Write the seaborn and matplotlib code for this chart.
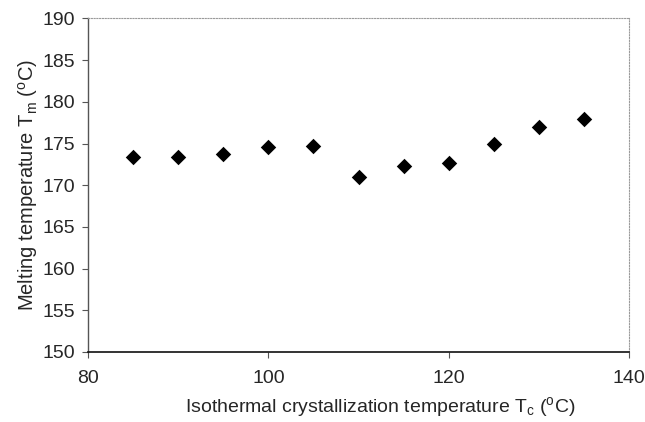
import matplotlib
matplotlib.use("Agg")
import matplotlib.pyplot as plt
import seaborn as sns
import pandas as pd

tc = [85, 90, 95, 100, 105, 110, 115, 120, 125, 130, 135]
tm = [173.4, 173.4, 173.7, 174.6, 174.7, 171.0, 172.3, 172.7, 175.0, 177.0, 178.0]
xticks = [80, 100, 120, 140]
yticks = [150, 155, 160, 165, 170, 175, 180, 185, 190]

sns.set_style("white")
plt.rcParams['font.family'] = ['Liberation Sans', 'DejaVu Sans']
plt.rcParams['mathtext.fontset'] = 'custom'
plt.rcParams['mathtext.rm'] = 'Liberation Sans'
plt.rcParams['mathtext.it'] = 'Liberation Sans'

df = pd.DataFrame({"Tc": tc, "Tm": tm})

fig = plt.figure(figsize=(6.45, 4.22), dpi=100)
ax = fig.add_axes([88/645, (422-352)/422, (629-88)/645, (352-18.5)/422])
sns.scatterplot(data=df, x="Tc", y="Tm", ax=ax, marker="D", s=62,
                color="black", edgecolor="black", linewidth=0)

ax.set_xlim(80, 140)
ax.set_ylim(150, 190)
ax.set_xticks(xticks)
ax.set_yticks(yticks)
ax.tick_params(axis='both', direction='out', length=4, width=0.8, color='#555555',
               labelsize=14, pad=5, bottom=True, left=True)
ax.tick_params(axis='x', pad=9)

for side in ['top', 'right']:
    ax.spines[side].set_linestyle((0, (1, 1.5)))
    ax.spines[side].set_color('#9a9a9a')
    ax.spines[side].set_linewidth(0.8)
ax.spines['left'].set_linestyle((0, (1, 1)))
ax.spines['left'].set_color('#555555')
ax.spines['left'].set_linewidth(1.0)
ax.spines['bottom'].set_color('#111111')
ax.spines['bottom'].set_linewidth(1.2)

ax.set_xlabel("Isothermal crystallization temperature T$_\\mathregular{c}$ ($^\\mathregular{o}$C)",
              fontsize=14, labelpad=6)
ax.xaxis.label.set_x((380 - 88) / 541)
ax.set_ylabel("Melting temperature T$_\\mathregular{m}$ ($^\\mathregular{o}$C)",
              fontsize=14.5, labelpad=2)

fig.savefig("out.png", dpi=100)
